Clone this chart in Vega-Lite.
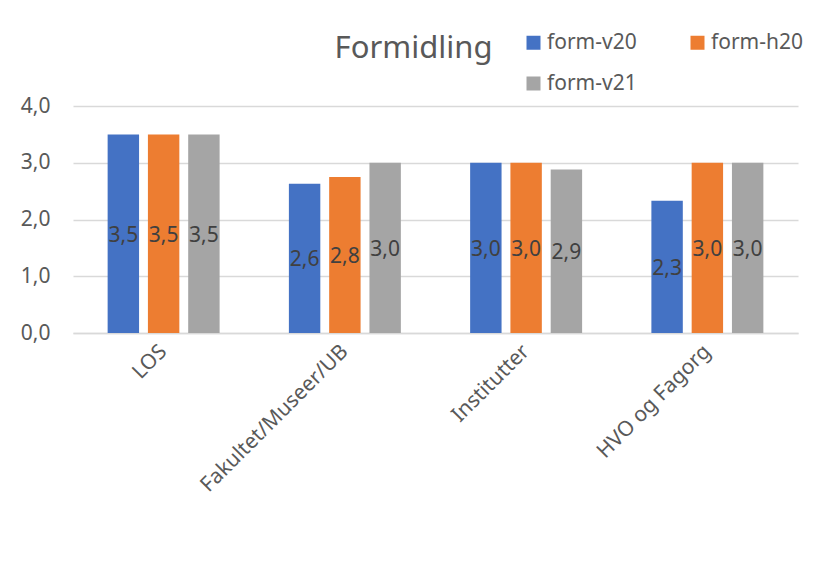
{
  "$schema": "https://vega.github.io/schema/vega-lite/v6.json",
  "width": 725,
  "height": 227,
  "autosize": {"type": "none"},
  "padding": {"left": 73, "top": 106, "right": 25, "bottom": 254},
  "background": "white",
  "config": {
    "font": "Noto Sans",
    "locale": {"number": {"decimal": ",", "thousands": " ", "grouping": [3], "currency": ["", " kr"]}},
    "view": {"stroke": null}
  },
  "title": {
    "text": "Formidling",
    "fontSize": 31,
    "fontWeight": "normal",
    "color": "#595959",
    "anchor": "middle",
    "frame": "group",
    "baseline": "alphabetic",
    "dx": -22,
    "offset": -57
  },
  "data": {
    "values": [
      {"enhet": "LOS", "serie": "form-v20", "verdi": 3.5},
      {"enhet": "LOS", "serie": "form-h20", "verdi": 3.5},
      {"enhet": "LOS", "serie": "form-v21", "verdi": 3.5},
      {"enhet": "Fakultet/Museer/UB", "serie": "form-v20", "verdi": 2.63},
      {"enhet": "Fakultet/Museer/UB", "serie": "form-h20", "verdi": 2.75},
      {"enhet": "Fakultet/Museer/UB", "serie": "form-v21", "verdi": 3.0},
      {"enhet": "Institutter", "serie": "form-v20", "verdi": 3.0},
      {"enhet": "Institutter", "serie": "form-h20", "verdi": 3.0},
      {"enhet": "Institutter", "serie": "form-v21", "verdi": 2.88},
      {"enhet": "HVO og Fagorg", "serie": "form-v20", "verdi": 2.33},
      {"enhet": "HVO og Fagorg", "serie": "form-h20", "verdi": 3.0},
      {"enhet": "HVO og Fagorg", "serie": "form-v21", "verdi": 3.0}
    ]
  },
  "encoding": {
    "x": {
      "field": "enhet",
      "type": "nominal",
      "sort": ["LOS", "Fakultet/Museer/UB", "Institutter", "HVO og Fagorg"],
      "scale": {"paddingInner": 0, "paddingOuter": 0},
      "title": null,
      "axis": {
        "labelAngle": -45,
        "labelAlign": "right",
        "labelBaseline": "middle",
        "labelPadding": 15,
        "labelFontSize": 21,
        "labelColor": "#595959",
        "ticks": false,
        "domainColor": "#d9d9d9",
        "domainWidth": 1.5,
        "labelLimit": 400
      }
    },
    "xOffset": {
      "field": "serie",
      "sort": ["form-v20", "form-h20", "form-v21"],
      "scale": {"paddingInner": 0.22, "paddingOuter": 0.86}
    }
  },
  "layer": [
    {
      "mark": {"type": "bar"},
      "encoding": {
        "y": {
          "field": "verdi",
          "type": "quantitative",
          "scale": {"domain": [0, 4]},
          "title": null,
          "axis": {
            "values": [0, 1, 2, 3, 4],
            "format": ".1f",
            "domain": false,
            "ticks": false,
            "labelPadding": 23,
            "labelFontSize": 21,
            "labelColor": "#595959",
            "gridColor": "#d9d9d9",
            "gridWidth": 1.5
          }
        },
        "color": {
          "field": "serie",
          "type": "nominal",
          "scale": {
            "domain": ["form-v20", "form-h20", "form-v21"],
            "range": ["#4472C4", "#ED7D31", "#A5A5A5"]
          },
          "legend": {
            "title": null,
            "orient": "none",
            "legendX": 450,
            "legendY": -74,
            "direction": "horizontal",
            "columns": 2,
            "columnPadding": 50,
            "rowPadding": 19,
            "padding": 0,
            "symbolType": "square",
            "symbolSize": 196,
            "symbolStrokeWidth": 0,
            "labelFontSize": 21,
            "labelColor": "#595959",
            "labelOffset": 3
          }
        }
      }
    },
    {
      "mark": {"type": "text", "fontSize": 21, "color": "#404040", "baseline": "middle", "align": "center", "dy": 2},
      "encoding": {
        "y": {
          "field": "verdi",
          "type": "quantitative",
          "scale": {"domain": [0, 8]},
          "axis": null
        },
        "text": {"field": "verdi", "type": "quantitative", "format": ".1f"}
      }
    }
  ],
  "resolve": {"scale": {"y": "independent"}}
}
